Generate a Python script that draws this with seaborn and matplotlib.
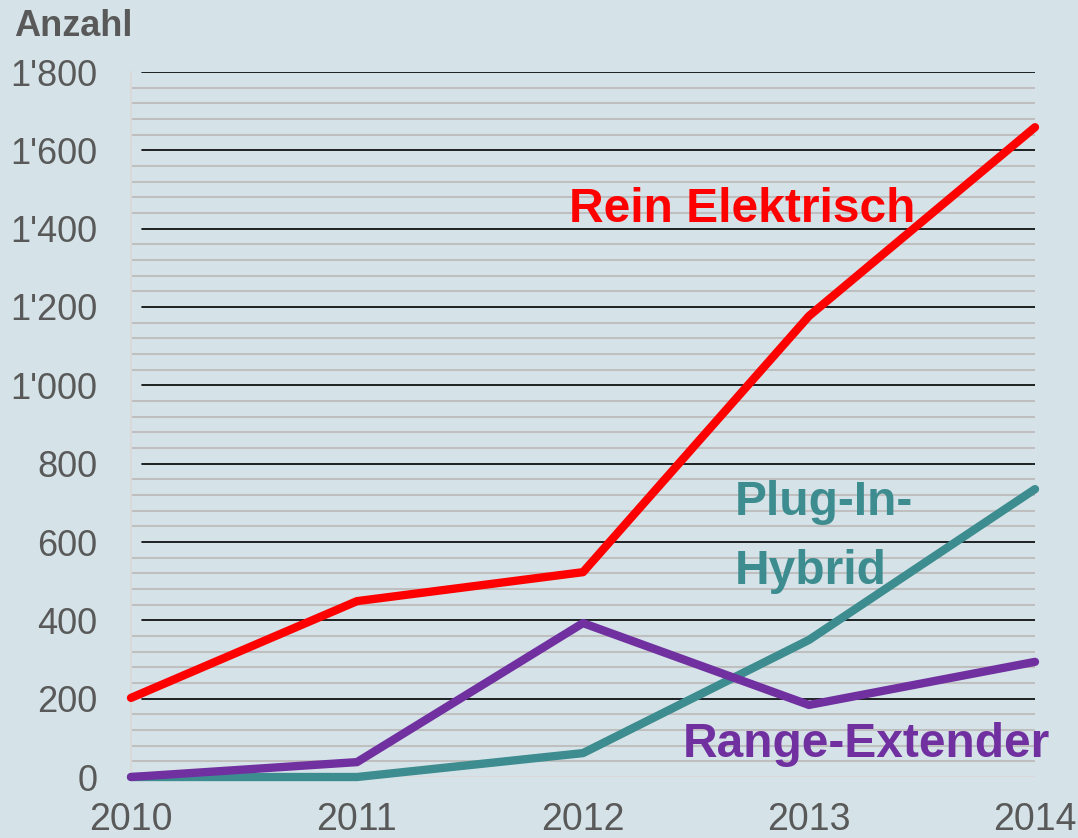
import matplotlib
matplotlib.use("Agg")
import matplotlib.pyplot as plt
import seaborn as sns
import pandas as pd

# values
years = [2010, 2011, 2012, 2013, 2014]
rein_elektrisch = [202, 449, 523, 1177, 1659]
plug_in_hybrid = [0, 0, 61, 350, 735]
range_extender = [0, 38, 393, 184, 294]
y_ticks = [0, 200, 400, 600, 800, 1000, 1200, 1400, 1600, 1800]
y_labels = ["0", "200", "400", "600", "800", "1'000", "1'200", "1'400", "1'600", "1'800"]

df = pd.DataFrame({
    "Jahr": years * 3,
    "Anzahl": rein_elektrisch + plug_in_hybrid + range_extender,
    "Typ": ["Rein Elektrisch"] * 5 + ["Plug-In-Hybrid"] * 5 + ["Range-Extender"] * 5,
})

bg = "#d5e3e8"
grey_text = "#595959"
palette = {"Rein Elektrisch": "#ff0000", "Plug-In-Hybrid": "#3d8c8f", "Range-Extender": "#7030a0"}

sns.set_style("white")
plt.rcParams["font.family"] = ["Liberation Sans", "DejaVu Sans"]

fig = plt.figure(figsize=(10.78, 8.38), dpi=100, facecolor=bg)
ax = fig.add_axes([131 / 1078, 61 / 838, 904 / 1078, 705 / 838])
ax.set_facecolor(bg)

# minor grey gridlines every 40, major black every 200
for v in range(0, 1801, 40):
    if v % 200 == 0:
        if v > 0:
            ax.axhline(v, xmin=11 / 904, xmax=1, color="black", lw=1.2, zorder=1)
    else:
        ax.axhline(v, color="#bfbfbf", lw=1.5, zorder=1)
ax.axhline(0, color="#d9d9d9", lw=1.5, zorder=1)

sns.lineplot(data=df, x="Jahr", y="Anzahl", hue="Typ", palette=palette,
             linewidth=6, legend=False, ax=ax, zorder=3, clip_on=False)

ax.set_xlim(2010, 2014)
ax.set_ylim(0, 1800)
ax.set_yticks(y_ticks)
ax.set_yticklabels(y_labels)
ax.set_xticks(years)
ax.set_xticklabels([str(y) for y in years])
ax.tick_params(axis="y", length=0, pad=24, labelsize=26, labelcolor=grey_text)
ax.tick_params(axis="x", length=0, pad=18, labelsize=27, labelcolor=grey_text)
ax.set_xlabel("")
ax.set_ylabel("")

for side in ["top", "right", "bottom"]:
    ax.spines[side].set_visible(False)
ax.spines["left"].set_color("#d9d9d9")
ax.spines["left"].set_linewidth(1.5)

# series labels
ax.text(2011.94, 1417, "Rein Elektrisch", color=palette["Rein Elektrisch"],
        fontsize=34.5, fontweight="bold", va="baseline")
ax.text(2012.67, 669, "Plug-In-", color=palette["Plug-In-Hybrid"],
        fontsize=34.5, fontweight="bold", va="baseline")
ax.text(2012.67, 494, "Hybrid", color=palette["Plug-In-Hybrid"],
        fontsize=34.5, fontweight="bold", va="baseline")
ax.text(2012.44, 51, "Range-Extender", color=palette["Range-Extender"],
        fontsize=34.5, fontweight="bold", va="baseline", clip_on=False)

fig.text(14 / 1078, 1 - 36 / 838, "Anzahl", color=grey_text, fontsize=26,
         fontweight="bold", va="baseline")

fig.savefig("out.png", dpi=100, facecolor=bg)
